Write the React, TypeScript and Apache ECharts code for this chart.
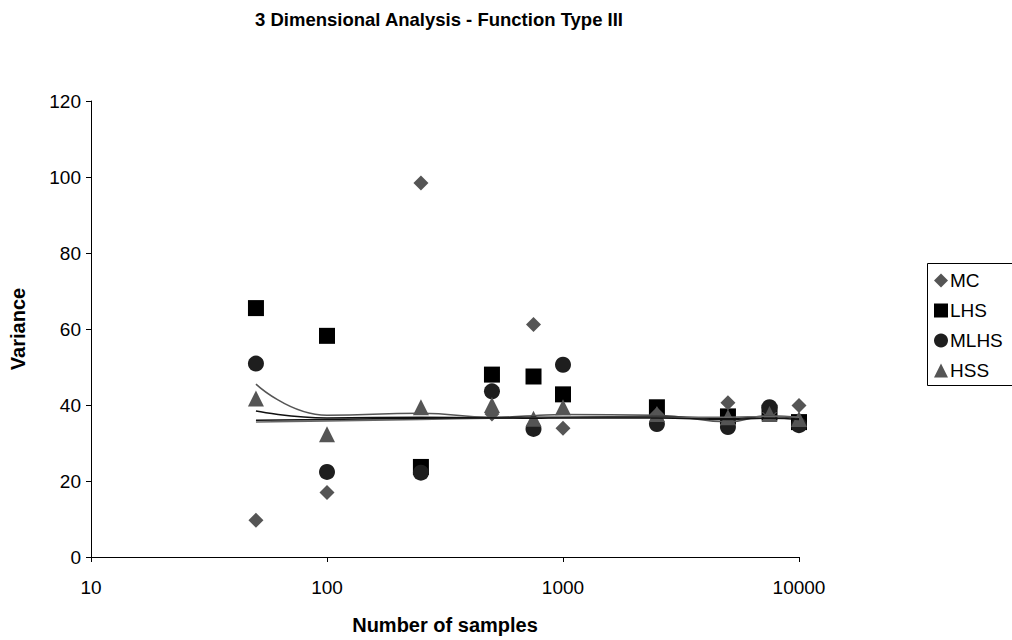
import React, { useEffect, useRef } from "react";
import * as echarts from "echarts";

const samples = [50, 100, 250, 500, 750, 1000, 2500, 5000, 7500, 10000];
const mcValues = [9.7, 17.0, 98.4, 37.6, 61.2, 33.9, 37.5, 40.6, 38.0, 39.9];
const lhsValues = [65.5, 58.2, 23.7, 48.0, 47.5, 42.8, 39.4, 37.0, 38.0, 35.5];
const mlhsValues = [50.9, 22.4, 22.2, 43.6, 33.7, 50.6, 35.0, 34.2, 39.4, 34.7];
const hssValues = [41.7, 32.3, 39.4, 40.0, 36.4, 39.4, 37.6, 36.8, 37.6, 36.3];

const trendGrayA = [45.5, 37.3, 37.8, 36.8, 37.2, 37.5, 37.3, 35.6, 37.2, 36.8];
const trendBlackA = [38.4, 36.6, 36.8, 36.6, 36.8, 36.8, 37.0, 36.4, 37.0, 36.5];
const trendGrayB = [35.5, 35.8, 36.2, 36.5, 36.6, 36.7, 36.8, 36.8, 37.0, 36.8];
const trendBlackB = [36.0, 36.2, 36.5, 36.6, 36.5, 36.6, 36.6, 36.2, 36.5, 36.2];

const yTicks = [0, 20, 40, 60, 80, 100, 120];

const pair = (vals: number[]) => samples.map((x, i) => [x, vals[i]]);

export default function App() {
  const ref = useRef<HTMLDivElement>(null);
  useEffect(() => {
    if (!ref.current) return;
    const chart = echarts.init(ref.current, undefined, { renderer: "svg" });
    const font = "Liberation Sans, Arial, Helvetica, sans-serif";
    const scatter = (name: string, vals: number[], symbol: string, size: number, color: string, z: number) => ({
      name,
      type: "scatter",
      data: pair(vals),
      symbol,
      symbolSize: size,
      itemStyle: { color, opacity: 1 },
      z,
    });
    const trend = (vals: number[], color: string) => ({
      type: "line",
      data: pair(vals),
      smooth: true,
      showSymbol: false,
      symbol: "none",
      lineStyle: { color, width: 1.5 },
      z: 5,
      silent: true,
    });
    chart.setOption({
      animation: false,
      backgroundColor: "#fff",
      textStyle: { fontFamily: font },
      title: {
        text: "3 Dimensional Analysis - Function Type III",
        left: 250,
        top: 5,
        textStyle: { fontSize: 18.5, fontWeight: "bold", color: "#000", fontFamily: font },
      },
      graphic: [
        {
          type: "rect",
          shape: { x: 927.5, y: 263.5, width: 100, height: 122 },
          style: { fill: "none", stroke: "#000", lineWidth: 1 },
          silent: true,
          z: 1,
        },
      ],
      legend: {
        orient: "vertical",
        left: 934,
        top: 271,
        itemWidth: 14,
        itemHeight: 14,
        itemGap: 11,
        padding: 0,
        textStyle: { fontSize: 19, color: "#000", fontFamily: font, padding: [0, 0, 0, -3] },
        data: [
          { name: "MC", icon: "diamond" },
          { name: "LHS", icon: "rect" },
          { name: "MLHS", icon: "circle" },
          { name: "HSS", icon: "triangle" },
        ],
      },
      grid: { left: 91, right: 213, top: 101, bottom: 79, containLabel: false },
      xAxis: {
        type: "log",
        logBase: 10,
        min: 10,
        max: 10000,
        name: "Number of samples",
        nameLocation: "middle",
        nameGap: 58,
        nameTextStyle: { fontSize: 20, fontWeight: "bold", color: "#000", fontFamily: font },
        axisLine: { lineStyle: { color: "#000", width: 1 } },
        axisTick: { show: true, length: 5, lineStyle: { color: "#000" } },
        minorTick: { show: false },
        splitLine: { show: false },
        axisLabel: {
          fontSize: 19,
          color: "#000",
          margin: 21,
          fontFamily: font,
          formatter: (v: number) => String(Math.round(v)),
        },
      },
      yAxis: {
        type: "value",
        min: yTicks[0],
        max: yTicks[yTicks.length - 1],
        interval: 20,
        name: "Variance",
        nameLocation: "middle",
        nameGap: 63,
        nameTextStyle: { fontSize: 20, fontWeight: "bold", color: "#000", fontFamily: font },
        axisLine: { show: true, lineStyle: { color: "#000", width: 1 } },
        axisTick: { show: true, length: 5, lineStyle: { color: "#000" } },
        splitLine: { show: false },
        axisLabel: { fontSize: 19, color: "#000", margin: 10, fontFamily: font },
      },
      series: [
        scatter("MC", mcValues, "diamond", 15, "#555555", 3),
        scatter("LHS", lhsValues, "rect", 16, "#000000", 2),
        scatter("MLHS", mlhsValues, "circle", 16, "#1e1e1e", 3),
        scatter("HSS", hssValues, "triangle", 16, "#555555", 4),
        trend(trendGrayA, "#555555"),
        trend(trendBlackA, "#111111"),
        trend(trendGrayB, "#666666"),
        trend(trendBlackB, "#111111"),
      ],
    });
    return () => chart.dispose();
  }, []);
  return (
    <div
      ref={ref}
      style={{ position: "absolute", left: 0, top: 0, width: 1012, height: 640, overflow: "hidden" }}
    />
  );
}
